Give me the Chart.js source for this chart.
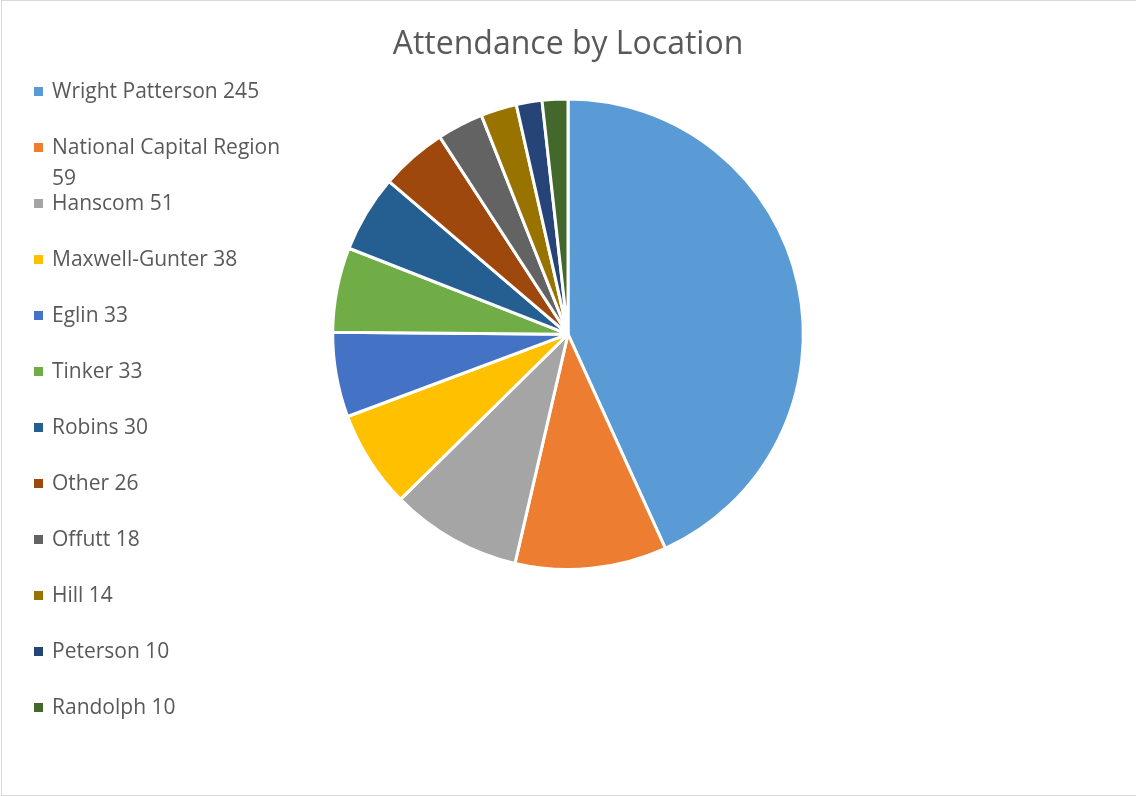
<!DOCTYPE html>
<html>
<head>
<meta charset="utf-8">
<script src="https://cdn.jsdelivr.net/npm/chart.js@4.4.1/dist/chart.umd.min.js"></script>
<style>
  html, body { margin: 0; padding: 0; background: #fff; }
  #frame {
    position: absolute; left: 1px; top: 0; width: 1140px; height: 794px;
    border: 1px solid #d9d9d9; border-right: none; box-sizing: content-box;
  }
  #wrap { position: absolute; left: 0; top: 0; width: 1136px; height: 796px; }
</style>
</head>
<body>
<div id="frame"></div>
<div id="wrap"><canvas id="chart-canvas"></canvas></div>
<script>
const locations = ['Wright Patterson', 'National Capital Region', 'Hanscom', 'Maxwell-Gunter',
  'Eglin', 'Tinker', 'Robins', 'Other', 'Offutt', 'Hill', 'Peterson', 'Randolph'];
const attendance = [245, 59, 51, 38, 33, 33, 30, 26, 18, 14, 10, 10];
const sliceColors = ['#5B9BD5', '#ED7D31', '#A5A5A5', '#FFC000', '#4472C4', '#70AD47',
  '#255E91', '#9E480E', '#636363', '#997300', '#264478', '#43682B'];

// Office-style legend on the left: square marker, "label value", long labels wrap
const sideLegend = {
  id: 'sideLegend',
  afterDraw(chart) {
    const ctx = chart.ctx;
    const ds = chart.data.datasets[0];
    const font = '21px "Open Sans", sans-serif';
    const maxWidth = 232;
    ctx.save();
    ctx.font = font;
    ctx.textBaseline = 'middle';
    ctx.textAlign = 'left';
    let y = 92;
    chart.data.labels.forEach((lab, i) => {
      ctx.fillStyle = ds.backgroundColor[i];
      ctx.fillRect(34, y - 5, 9, 9);
      ctx.fillStyle = '#595959';
      const words = (lab + ' ' + ds.data[i]).split(' ');
      const lines = [];
      let line = '';
      words.forEach(w => {
        const test = line ? line + ' ' + w : w;
        if (ctx.measureText(test).width > maxWidth && line) {
          lines.push(line);
          line = w;
        } else {
          line = test;
        }
      });
      lines.push(line);
      lines.forEach((l, k) => ctx.fillText(l, 52, y + k * 31));
      y += 56;
    });
    ctx.restore();
  }
};

new Chart(
  document.getElementById('chart-canvas'),
  {
    type: 'pie',
    plugins: [sideLegend],
    data: {
      labels: locations,
      datasets: [{
        data: attendance,
        backgroundColor: sliceColors,
        borderColor: '#ffffff',
        borderWidth: 3,
        hoverOffset: 0
      }]
    },
    options: {
      responsive: true,
      maintainAspectRatio: false,
      animation: false,
      layout: {
        padding: { top: 0, bottom: 225 }
      },
      plugins: {
        legend: { display: false },
        tooltip: { enabled: false },
        title: {
          display: true,
          text: 'Attendance by Location',
          color: '#595959',
          font: { family: '"Open Sans", sans-serif', size: 32, weight: 'normal' },
          padding: { top: 26, bottom: 33 }
        }
      }
    }
  }
);
</script>
</body>
</html>
